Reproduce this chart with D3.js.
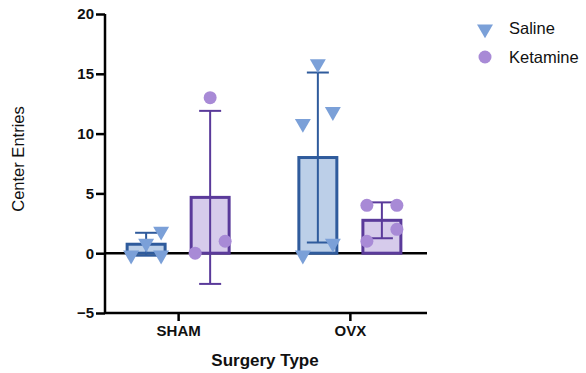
<!DOCTYPE html>
<html><head><meta charset="utf-8">
<script src="https://cdn.jsdelivr.net/npm/d3@7"></script>
<style>body{margin:0;background:#fff}svg{display:block}text{font-family:"Liberation Sans",Arial,sans-serif}</style>
</head><body><svg id="c" width="586" height="373"></svg>
<script>
const categories = ["SHAM", "OVX"];
const seriesNames = ["Saline", "Ketamine"];
const salinePoints = [[0, 0, 1, 2], [16, 12, 11, 1, 0]];
const ketaminePoints = [[13, 0, 1], [4, 4, 1, 2]];
// horizontal jitter slot for each point (-1..1)
const salineJitter = [[-0.6, 0.6, 0, 0.6], [0, 0.6, -0.6, 0.6, -0.6]];
const ketamineJitter = [[0, -0.6, 0.6], [-0.6, 0.6, -0.6, 0.6]];
const yTicks = [-5, 0, 5, 10, 15, 20];

const fills = ["#bccfe8", "#d6cbeb"], strokes = ["#2f5b9c", "#5a3a9a"], markers = ["#7ba0d8", "#a88ad6"];

const svg = d3.select("#c");
const y = d3.scaleLinear().domain([-5, 20]).range([313, 14]);
const x = d3.scalePoint().domain(categories).range([106, 422]).padding(0.42);
const xs = d3.scaleBand().domain(seriesNames).range([-52.5, 52.5]).paddingInner(0.36).paddingOuter(0);

const mean = a => d3.mean(a), sd = a => d3.deviation(a);
const allPts = [salinePoints, ketaminePoints], allJit = [salineJitter, ketamineJitter];
const tri = d3.symbol(d3.symbolTriangle, 110)();

// zero line
svg.append("line").attr("x1", 105).attr("x2", 427).attr("y1", y(0)).attr("y2", y(0)).attr("stroke", "#000").attr("stroke-width", 2.5);

seriesNames.forEach((s, si) => {
  categories.forEach((c, ci) => {
    const pts = allPts[si][ci];
    const m = mean(pts), d = sd(pts);
    const bx = x(c) + xs(s), bw = xs.bandwidth(), cx = bx + bw / 2;
    const g = svg.append("g");
    g.append("rect").attr("x", bx + 1.5).attr("width", bw - 3)
      .attr("y", y(Math.max(m, 0))).attr("height", Math.abs(y(m) - y(0)))
      .attr("fill", fills[si]).attr("stroke", strokes[si]).attr("stroke-width", 3);
    g.append("line").attr("x1", cx).attr("x2", cx).attr("y1", y(m + d)).attr("y2", y(m - d)).attr("stroke", strokes[si]).attr("stroke-width", 2);
    [m + d, m - d].forEach(v => g.append("line").attr("x1", cx - 11).attr("x2", cx + 11).attr("y1", y(v)).attr("y2", y(v)).attr("stroke", strokes[si]).attr("stroke-width", 2));
    pts.forEach((v, i) => {
      const px = cx + allJit[si][ci][i] * 25;
      if (si === 0) {
        g.append("path").attr("d", tri).attr("transform", `translate(${px},${y(v) + 2}) rotate(180)`).attr("fill", markers[0]);
      } else {
        g.append("circle").attr("cx", px).attr("cy", y(v)).attr("r", 6.5).attr("fill", markers[1]);
      }
    });
  });
});

// axes
const ya = svg.append("g").attr("transform", "translate(105,0)").call(d3.axisLeft(y).tickValues(yTicks).tickSize(9).tickPadding(2));
ya.select(".domain").attr("stroke-width", 2.5).attr("d", `M0,${y(-5)}V${y(20)}`);
ya.selectAll(".tick line").attr("stroke-width", 2.5);
ya.selectAll("text").attr("font-size", 15).attr("font-weight", "bold").attr("fill", "#111");
const xa = svg.append("g").attr("transform", "translate(0,313)").call(d3.axisBottom(x).tickSize(8).tickPadding(4));
xa.select(".domain").attr("stroke-width", 2.5).attr("d", "M105,0H427");
xa.selectAll(".tick line").attr("stroke-width", 2.5);
xa.selectAll("text").attr("font-size", 15).attr("font-weight", "bold").attr("fill", "#111");

svg.append("text").attr("transform", "translate(24,159) rotate(-90)").attr("text-anchor", "middle").attr("font-size", 16.5).attr("fill", "#111").text("Center Entries");
svg.append("text").attr("x", 265).attr("y", 366).attr("text-anchor", "middle").attr("font-size", 17).attr("font-weight", "bold").attr("fill", "#111").text("Surgery Type");

// legend
seriesNames.forEach((s, i) => {
  const ly = 28 + i * 29;
  if (i === 0) svg.append("path").attr("d", tri).attr("transform", `translate(485,${ly + 1}) rotate(180)`).attr("fill", markers[0]);
  else svg.append("circle").attr("cx", 485).attr("cy", ly).attr("r", 6.5).attr("fill", markers[1]);
  svg.append("text").attr("x", 509).attr("y", ly + 6).attr("font-size", 16.5).attr("fill", "#111").text(s);
});
</script></body></html>
